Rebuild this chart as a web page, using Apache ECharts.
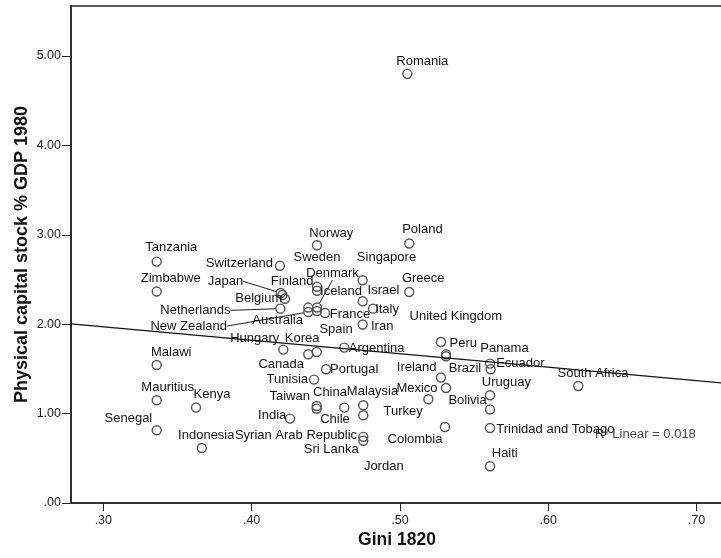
<!DOCTYPE html>
<html>
<head>
<meta charset="utf-8">
<script src="https://cdn.jsdelivr.net/npm/echarts@6/dist/echarts.min.js"></script>
<style>
html,body{margin:0;padding:0;background:#fff;}
#chart{width:721px;height:558px;}
</style>
</head>
<body>
<div id="chart"></div>
<script>
// ---- data ----
const countries = ['Romania','Tanzania','Zimbabwe','Malawi','Mauritius','Senegal','Kenya','Indonesia',
  'Norway','Poland','Switzerland','Singapore','Greece','Israel','Italy','Iran',
  'Japan','Finland','Belgium','Netherlands','Sweden','Iceland','Australia','Denmark','New Zealand','Spain','France',
  'Hungary','Korea','Canada','Argentina','Portugal','Tunisia','Taiwan','Chile','China','Malaysia','Jordan','India',
  'Syrian Arab Republic','Sri Lanka','Peru','Brazil','United Kingdom','Ecuador','Panama','Ireland','Mexico','Turkey',
  'Uruguay','Bolivia','South Africa','Trinidad and Tobago','Haiti','Colombia'];
const gini1820 = [0.505,0.336,0.336,0.336,0.336,0.336,0.3625,0.3664,
  0.4441,0.5063,0.4191,0.4749,0.5063,0.4749,0.4819,0.4749,
  0.4196,0.4208,0.4225,0.4194,0.4441,0.4441,0.4382,0.4441,0.4382,0.4441,0.4495,
  0.4214,0.4439,0.4382,0.4625,0.4502,0.4421,0.4439,0.4439,0.4625,0.4753,0.4753,0.4259,
  0.4753,0.4753,0.5277,0.5311,0.5311,0.5608,0.5612,0.5277,0.5311,0.5192,
  0.5608,0.5608,0.6203,0.5608,0.5608,0.5304];
const capital1980 = [4.80,2.70,2.365,1.544,1.149,0.813,1.067,0.615,
  2.883,2.902,2.653,2.491,2.360,2.256,2.174,1.996,
  2.349,2.327,2.284,2.174,2.418,2.374,2.186,2.186,2.136,2.148,2.125,
  1.716,1.689,1.663,1.738,1.496,1.380,1.085,1.054,1.067,1.093,0.981,0.944,
  0.740,0.696,1.801,1.663,1.641,1.559,1.496,1.403,1.286,1.160,
  1.205,1.045,1.309,0.839,0.411,0.850];
const xTicks = [0.30,0.40,0.50,0.60,0.70];
const yTicks = [0,1,2,3,4,5];
const fitIntercept = 2.423;   // linear fit line
const fitSlope = -1.506;
const r2Text = 'R\u00B2 Linear = 0.018';
const r2Anchor = [0.6316, 0.765];

// ---- label placement (style, pixel offsets from each point) ----
const labelOffsets = {
  'Romania':[15,-12.6],'Tanzania':[14.6,-14],'Zimbabwe':[14,-13.3],'Malawi':[14.5,-13],'Mauritius':[11,-13.3],
  'Senegal':[-28.3,-11.7],'Kenya':[16,-13.3],'Indonesia':[4.5,-12.7],'Norway':[14.3,-12.3],'Poland':[13.2,-14],
  'Switzerland':[-40.5,-2],'Singapore':[23.8,-23],'Greece':[14,-13.4],'Israel':[20.8,-11],'Italy':[14,1],
  'Iran':[19.5,1.7],'Japan':[-55.2,-11.7],'Finland':[9.7,-13.7],'Belgium':[-26.2,-0.8],'Netherlands':[-85,1.7],
  'Sweden':[0,-29],'Iceland':[24,1],'Australia':[-30.6,12.7],'Denmark':[15.5,-34],'New Zealand':[-119.5,14],
  'Spain':[19,18],'France':[25,1.6],'Hungary':[-28.6,-11],'Korea':[-14.5,-13.4],'Canada':[-27,10],
  'Argentina':[32.4,1],'Portugal':[28.2,0.3],'Tunisia':[-26.7,0],'Taiwan':[-27,-10],'Chile':[18.3,10.8],
  'China':[-14.3,-15.6],'Malaysia':[9.2,-14],'Jordan':[20.5,51],'India':[-17.8,-3.3],
  'Syrian Arab Republic':[-67.3,-1.5],'Sri Lanka':[-32,8.8],'Peru':[22.3,1.6],'Brazil':[19,13.7],
  'United Kingdom':[9.8,-40.3],'Ecuador':[30.3,0],'Panama':[13.8,-21.3],'Ireland':[-24.3,-10.6],
  'Mexico':[-29,0.6],'Turkey':[-25.3,12],'Uruguay':[16.3,-12.7],'Bolivia':[-22.5,-9.3],
  'South Africa':[14.7,-12.4],'Trinidad and Tobago':[65.3,1.3],'Haiti':[14.7,-12.7],'Colombia':[-30,12.3]
};
const leaderLabels = ['Japan','Netherlands','New Zealand','Denmark'];

const X_MIN = 0.2782, X_MAX = 0.7179, Y_MIN = 0, Y_MAX = 5.559;
const FONT = '"Liberation Sans", Arial, sans-serif';

const points = countries.map((c, i) => ({
  name: c,
  value: [gini1820[i], capital1980[i]],
  labelLine: { show: leaderLabels.indexOf(c) >= 0 }
}));

const fitLine = [[X_MIN, fitIntercept + fitSlope * X_MIN], [X_MAX, fitIntercept + fitSlope * X_MAX]];
const fmt = v => v.toFixed(2).replace(/^0\./, '.');

const chart = echarts.init(document.getElementById('chart'), null, { renderer: 'canvas' });
chart.setOption({
  backgroundColor: '#fff',
  animation: false,
  textStyle: { fontFamily: FONT },
  grid: { left: 71, top: 6, right: -2, bottom: 55, containLabel: false, outerBoundsMode: 'none',
          show: true, borderColor: '#222', borderWidth: 1.5, backgroundColor: '#fff' },
  xAxis: {
    type: 'value', min: X_MIN, max: X_MAX,
    name: 'Gini 1820', nameLocation: 'middle', nameGap: 28, nameMoveOverlap: false,
    nameTextStyle: { fontFamily: FONT, fontWeight: 'bold', fontSize: 17.5, color: '#111' },
    axisLine: { show: true, onZero: false, lineStyle: { color: '#222', width: 1.5 } },
    axisTick: { show: true, length: 8, customValues: xTicks, lineStyle: { color: '#222', width: 1 } },
    axisLabel: { customValues: xTicks, formatter: fmt, fontFamily: FONT, fontSize: 12.5, color: '#222', margin: 11 },
    splitLine: { show: false }
  },
  yAxis: {
    type: 'value', min: Y_MIN, max: Y_MAX,
    name: 'Physical capital stock % GDP 1980', nameLocation: 'middle', nameGap: 40, nameMoveOverlap: false,
    nameTextStyle: { fontFamily: FONT, fontWeight: 'bold', fontSize: 18, color: '#111' },
    axisLine: { show: true, onZero: false, lineStyle: { color: '#222', width: 1.5 } },
    axisTick: { show: true, length: 9, customValues: yTicks, lineStyle: { color: '#222', width: 1 } },
    axisLabel: { customValues: yTicks, formatter: fmt, fontFamily: FONT, fontSize: 12.5, color: '#222', margin: 10 },
    splitLine: { show: false }
  },
  series: [
    {
      type: 'scatter', z: 2,
      data: points,
      symbol: 'circle', symbolSize: 9,
      itemStyle: { color: 'rgba(255,255,255,0)', borderColor: '#555', borderWidth: 1.4, opacity: 1 },
      label: { show: true, position: 'inside', formatter: '{b}', color: '#111', fontFamily: FONT, fontSize: 13, textBorderWidth: 0 },
      labelLine: { show: false, lineStyle: { color: '#222', width: 1 } },
      labelLayout: function (params) {
        const o = labelOffsets[countries[params.dataIndex]] || [0, -12];
        return { dx: o[0], dy: o[1] };
      },
      emphasis: { disabled: true }
    },
    {
      type: 'line', z: 5, data: fitLine, symbol: 'none', silent: true,
      lineStyle: { color: '#111', width: 1.4 }
    },
    {
      type: 'scatter', z: 5, silent: true, data: [r2Anchor], symbolSize: 0,
      label: { show: true, position: 'right', distance: 0, formatter: r2Text, color: '#111', fontFamily: FONT, fontSize: 13 }
    }
  ]
});
</script>
</body>
</html>
